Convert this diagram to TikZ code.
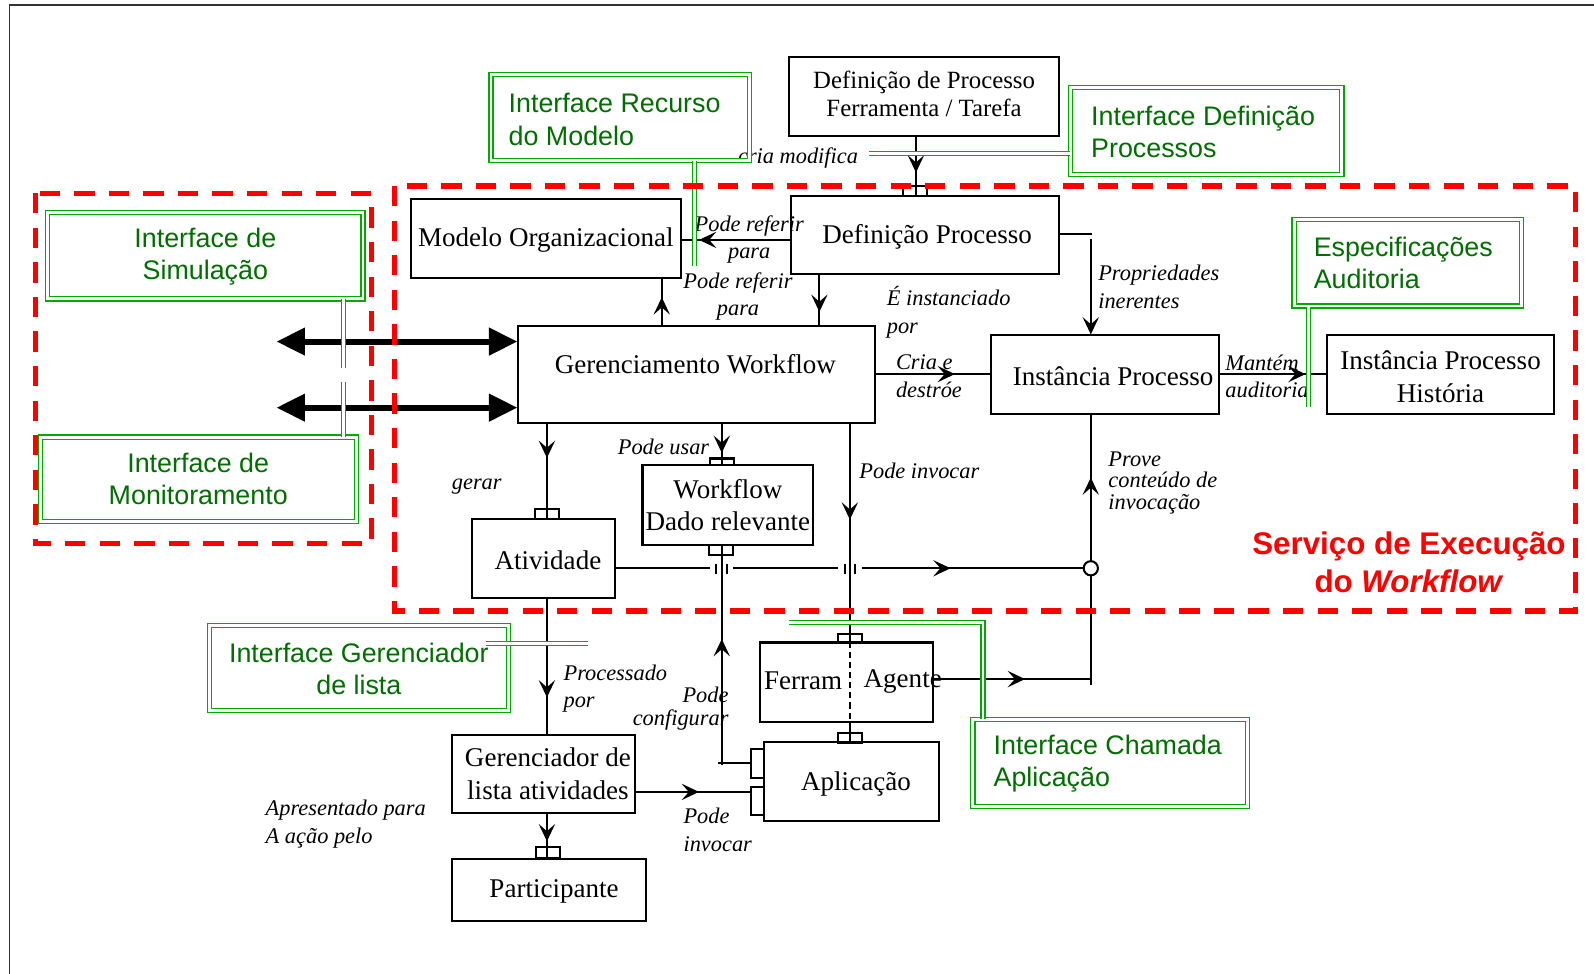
\documentclass[tikz,border=0pt]{standalone}
\usepackage{fontspec}
\setmainfont{Liberation Serif}
\newfontfamily\arialf{Liberation Sans}
\usetikzlibrary{arrows.meta,decorations.markings,fit,calc}
\definecolor{gline}{RGB}{0,170,0}
\definecolor{gtext}{RGB}{0,110,0}
\begin{document}
\begin{tikzpicture}[x=0.5pt,y=-0.5pt,
  box/.style={draw, line width=1pt, inner sep=0pt},
  gbox/.style={draw=gline, double, double distance=1.4pt, line width=0.6pt, inner sep=0pt},
  gconn/.style={draw=gline, double, double distance=1.4pt, line width=0.6pt},
  conn/.style={line width=1pt},
  port/.style={draw, line width=1pt, inner sep=0pt, minimum width=12pt, minimum height=5pt},
  txt/.style={font=\fontsize{13.3}{16}\selectfont, inner sep=0pt, align=center},
  lbl/.style={font=\fontsize{11}{13.5}\selectfont\itshape, inner sep=0pt},
  gtxt/.style={font=\arialf\fontsize{13.2}{15.8}\selectfont, text=gtext, inner sep=0pt},
  reddash/.style={draw=red, line width=2.5pt, dash pattern=on 10pt off 7pt},
  thickarr/.style={line width=3pt, {Triangle[length=14pt,width=13pt]}-{Triangle[length=14pt,width=13pt]}},
  midarrow/.style={postaction={decorate}, decoration={markings, mark=at position #1 with {\arrow{Stealth[length=8.5pt,width=8pt,inset=3.5pt]}}}}
]
\useasboundingbox (0,0) rectangle (1568,958);
\fill[white] (0,0) rectangle (1568,958);
\draw[line width=0.6pt, black!80] (9,958) -- (9,5) -- (1568,5);

% black boxes
\node[box, fit={(776,56)(1042,134)}] (deftool) {};
\node[txt, font=\fontsize{12.2}{13.5}\selectfont] (tdeftool) at (909,92.5) {Definição de Processo\\Ferramenta / Tarefa};
\node[box, fit={(404,196)(670,273)}] (modelo) {};
\node[txt] (tmodelo) at (537,236) {Modelo Organizacional};
\node[box, fit={(778,193)(1042,270)}] (defproc) {};
\node[txt] (tdefproc) at (912,233) {Definição Processo};
\node[box, fit={(510,321)(861,416)}] (gw) {};
\node[txt] (tgw) at (684,358) {Gerenciamento Workflow};
\node[box, fit={(975,330)(1199,407)}] (inst) {};
\node[txt] (tinst) at (1095,370) {Instância Processo};
\node[box, fit={(1305,330)(1529,407)}] (iph) {};
\node[txt, font=\fontsize{13.3}{16.5}\selectfont] (tiph) at (1417,370.5) {Instância Processo\\História};
\node[box, fit={(632,457)(800,536)}] (wdr) {};
\node[txt] (twdr) at (716,497) {Workflow\\Dado relevante};
\node[box, fit={(464,511)(605,588)}] (ativ) {};
\node[txt] (tativ) at (539,551) {Atividade};
\node[box, fit={(748,632)(918,710)}] (ferram) {};
\node[txt] (tferram) at (790,670) {Ferram};
\node[txt] (tagente) at (888,670) {Agente};
\node[box, fit={(752,730)(924,808)}] (aplic) {};
\node[txt] (taplic) at (842,771) {Aplicação};
\node[box, fit={(445,723)(625,800)}] (gerl) {};
\node[txt] (tgerl) at (539,761) {Gerenciador de\\lista atividades};
\node[box, fit={(445,845)(635,906)}] (part) {};
\node[txt] (tpart) at (545,877) {Participante};

% ports
\node[port] (pdef) at (900,188) {};
\node[port] (pativ) at (538,506) {};
\node[port, minimum height=3pt] (pwdr1) at (710,454) {};
\node[port] (pwdr2) at (709,541) {};
\node[port, minimum height=4pt] (pferr) at (836,628) {};
\node[port] (paplt) at (836,726) {};
\node[port, minimum width=6.5pt, minimum height=14pt] (papl1) at (745.5,751) {};
\node[port, minimum width=6.5pt, minimum height=13.5pt] (papl2) at (745.5,788) {};
\node[port, minimum width=11.5pt, minimum height=5.5pt] (ppart) at (539,839) {};

\node[circle, minimum size=7pt, inner sep=0pt] (junction) at (1073,559) {};

% coordinates
\coordinate (pcorner) at (1074,230);
\coordinate (pstart) at (1073,235);
\coordinate (h1a) at (698,559);
\coordinate (h1b) at (721,559);
\coordinate (h2a) at (824,559);
\coordinate (h2b) at (848,559);
\coordinate (cfgc) at (710,753);
\coordinate (cfgh) at (706,751);
\coordinate (fj) at (1073,668);
\coordinate (fjb) at (1073,674);
\coordinate (ta1) at (272,336);
\coordinate (ta2) at (272,401);

% connectors
\draw[conn, midarrow=0.61] (901,0 |- deftool.south) -- (901,0 |- defproc.north);
\draw[conn, midarrow=0.843] (defproc.west |- 0,236) -- (modelo.east |- 0,236);
\draw[conn, midarrow=0.6] (651,0 |- gw.north) -- (651,0 |- modelo.south);
\draw[conn, midarrow=0.73] (806,0 |- defproc.south) -- (806,0 |- gw.north);
\draw[conn] (defproc.east |- pcorner) -- (pcorner);
\draw[conn, -{Stealth[length=8.5pt,width=8pt,inset=3.5pt]}] (pstart) -- (pstart |- inst.north);
\draw[conn, midarrow=0.69] (gw.east |- 0,368) -- (inst.west |- 0,368);
\draw[conn, midarrow=0.81] (inst.east |- 0,368) -- (iph.west |- 0,368);
\draw[conn, midarrow=0.36] (538,0 |- gw.south) -- (538,0 |- ativ.north);
\draw[conn, midarrow=0.73] (710,0 |- gw.south) -- (710,0 |- wdr.north);
\draw[conn, midarrow=0.44] (836,0 |- gw.south) -- (836,0 |- ferram.north);
\draw[conn] (ativ.east |- h1a) -- (h1a);
\draw[conn] (h1b) -- (h2a);
\draw[conn, midarrow=0.40] (h2b) -- (junction.west);
\draw[line width=0.9pt] (704,555) -- (704,565) (715,555) -- (715,565) (831,555) -- (831,565) (841,555) -- (841,565);
\draw[conn, midarrow=0.576] (cfgc) -- (cfgc |- wdr.south);
\draw[conn] (papl1.west) -- (cfgh);
\draw[conn, midarrow=0.58] (ferram.east |- fj) -- (fj);
\draw[conn, midarrow=0.768] (fjb) -- (fjb |- inst.south);
\draw[conn, midarrow=0.73] (538,0 |- ativ.south) -- (538,0 |- gerl.north);
\draw[conn, midarrow=0.55] (gerl.east |- 0,779) -- (papl2.west |- 0,779);
\draw[conn, midarrow=0.62] (538,0 |- gerl.south) -- (538,0 |- part.north);
\draw[conn] (836,0 |- ferram.south) -- (836,0 |- aplic.north);
\draw[conn, dash pattern=on 3pt off 2pt] (836,0 |- ferram.north) -- (836,0 |- ferram.south);
\draw[line width=1pt, fill=white] (junction.center) circle (3.5pt);

% labels
\node[lbl] (lcria) at (785,155) {cria modifica};
\node[lbl, align=center] (lref1) at (737,235.5) {Pode referir\\para};
\node[lbl, align=center] (lref2) at (726,291.5) {Pode referir\\para};
\node[lbl, align=left, anchor=west] (linst) at (872,307) {É instanciado\\por};
\node[lbl, align=left, anchor=west] (lprop) at (1080,282) {Propriedades\\inerentes};
\node[lbl, align=left, anchor=west] (lcriae) at (881,370) {Cria e\\destróe};
\node[lbl, align=left, anchor=west] (lmant) at (1205,370) {Mantém\\auditoria};
\node[lbl, anchor=east] (lusar) at (698,440) {Pode usar};
\node[lbl] (lgerar) at (469,479) {gerar};
\node[lbl, anchor=west] (linvoc) at (845,463) {Pode invocar};
\node[lbl, align=left, anchor=west, font=\fontsize{11}{10.5}\selectfont\itshape] (lprove) at (1090,475) {Prove\\conteúdo de\\invocação};
\node[lbl, align=left, anchor=west] (lproc) at (554,677.5) {Processado\\por};
\node[lbl, align=right, anchor=east, font=\fontsize{11}{11}\selectfont\itshape] (lconf) at (717,697) {Pode\\configurar};
\node[lbl, align=left, anchor=west] (linvoc2) at (672,816.5) {Pode\\invocar};
\node[lbl, align=left, anchor=west] (lapres) at (261,810.5) {Apresentado para\\A ação pelo};

% thick arrows
\draw[thickarr] (ta1) -- (gw.west |- ta1);
\draw[thickarr] (ta2) -- (gw.west |- ta2);

% green interface boxes
\node[gbox, fit={(483,73)(737,158)}] (grec) {};
\node[gtxt, align=left, anchor=west] (tgrec) at (500,117.5) {Interface Recurso\\do Modelo};
\node[gbox, fit={(1053,86)(1320,172)}] (gdef) {};
\node[gtxt, align=left, anchor=west] (tgdef) at (1073,129.5) {Interface Definição\\Processos};
\node[gbox, fit={(47,209)(357,294)}] (gsim) {};
\node[gtxt, align=center] (tgsim) at (202,252.5) {Interface de\\Simulação};
\node[gbox, fit={(40,430)(351,513)}] (gmon) {};
\node[gtxt, align=center] (tgmon) at (195,471.5) {Interface de\\Monitoramento};
\node[gbox, fit={(206,615)(500,699)}] (gger) {};
\node[gtxt, align=center] (tgger) at (353,658) {Interface Gerenciador\\de lista};
\node[gbox, fit={(1273,216)(1497,301)}] (gesp) {};
\node[gtxt, align=left, anchor=west] (tgesp) at (1292,259) {Especificações\\Auditoria};
\node[gbox, fit={(957,708)(1227,793)}] (gcham) {};
\node[gtxt, align=left, anchor=west] (tgcham) at (977,751) {Interface Chamada\\Aplicação};

\coordinate (grecend) at (683,262);
\coordinate (gdefend) at (855,151);
\coordinate (gsim1) at (338,362);
\coordinate (gsim2) at (338,376);
\coordinate (ggera) at (478,633);
\coordinate (ggerb) at (578,633);
\coordinate (gespend) at (1287,400);
\coordinate (gchamc) at (967,612);
\coordinate (gchamend) at (776,612);
\draw[gconn] (grecend |- grec.south) -- (grecend);
\draw[gconn] (gdef.west |- gdefend) -- (gdefend);
\draw[gconn] (gsim1 |- gsim.south) -- (gsim1);
\draw[gconn] (gsim2) -- (gsim2 |- gmon.north);
\draw[gconn] (ggera) -- (ggerb);
\draw[gconn] (gespend |- gesp.south) -- (gespend);
\draw[gconn] (gchamc |- gcham.north) -- (gchamc) -- (gchamend);

% red dashed regions
\draw[reddash] (35,190) rectangle (365,535);
\draw[reddash] (388,183) rectangle (1550,601);
\node[font=\arialf\bfseries\fontsize{15.4}{18.5}\selectfont, text=red, align=center, inner sep=0pt] (svc) at (1386,553) {Serviço de Execução\\do \textit{Workflow}};
\end{tikzpicture}
\end{document}
